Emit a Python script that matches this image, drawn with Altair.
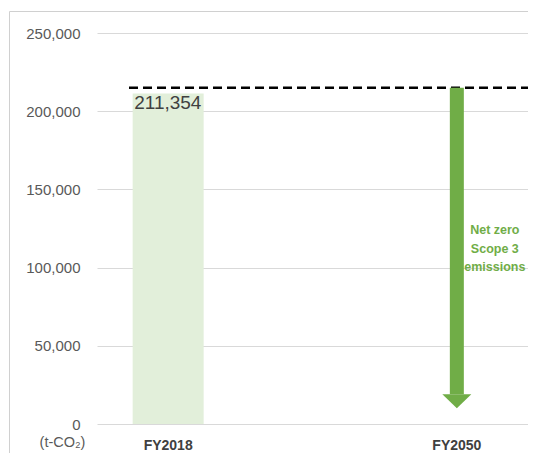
import altair as alt
import pandas as pd

categories = ["FY2018", "FY2050"]
bar_values = [211354, None]
bar_labels = ["211,354", ""]
baseline_level = 215000
arrow_start = 215000
arrow_end = 19000
y_ticks = [0, 50000, 100000, 150000, 200000, 250000]
annotation = "Net zero\nScope 3\nemissions"

bars = pd.DataFrame({"cat": categories[:1], "value": bar_values[:1], "label": bar_labels[:1]})
arrow = pd.DataFrame({"cat": [categories[1]], "start": [arrow_start], "end": [arrow_end]})
level = pd.DataFrame({"y": [baseline_level]})
note = pd.DataFrame({"cat": [categories[1]], "text": [annotation]})

xscale = alt.Scale(domain=categories, paddingInner=0.755, paddingOuter=0.124)
yscale = alt.Scale(domain=[0, 250000])

GREEN = "#70AD47"

base_x = alt.X("cat:N", scale=xscale, sort=categories,
               axis=alt.Axis(title=None, labelAngle=0, labelFont="Liberation Sans",
                             labelFontWeight="bold", labelFontSize=14, labelColor="#404040",
                             ticks=False, domain=False, labelPadding=14))

bar = alt.Chart(bars).mark_bar(color="#E2EFDA", size=71).encode(
    x=base_x,
    y=alt.Y("value:Q", scale=yscale,
            axis=alt.Axis(values=y_ticks, format=",d", grid=True, gridColor="#D9D9D9",
                          ticks=False, domain=False, labelFont="Liberation Sans",
                          labelFontSize=15, labelColor="#595959", labelPadding=17,
                          title="(t-CO₂)", titleAngle=0, titleAlign="center",
                          titleBaseline="middle", titleX=-35, titleY=409,
                          titleFont="Liberation Sans", titleFontSize=14.5,
                          titleFontWeight="normal", titleColor="#595959")),
)

bar_text = alt.Chart(bars).mark_text(align="left", baseline="middle", dx=-34, dy=10,
                                     font="Liberation Sans", fontSize=19, color="#404040").encode(
    x=alt.X("cat:N", scale=xscale, sort=categories),
    y=alt.Y("value:Q", scale=yscale),
    text="label:N",
)

shaft = alt.Chart(arrow).mark_bar(color=GREEN, size=14).encode(
    x=alt.X("cat:N", scale=xscale, sort=categories),
    y=alt.Y("start:Q", scale=yscale),
    y2="end:Q",
)

head = alt.Chart(arrow).mark_point(
    shape="M-1,0L1,0L0,0.97Z", filled=True, color=GREEN, opacity=1, size=841, strokeWidth=0
).encode(
    x=alt.X("cat:N", scale=xscale, sort=categories),
    y=alt.Y("end:Q", scale=yscale),
)

dash = alt.Chart(level).mark_rule(color="black", strokeWidth=2.5, strokeDash=[9, 5]).encode(
    y=alt.Y("y:Q", scale=yscale),
    x=alt.value(32),
    x2=alt.value(431),
)

label = alt.Chart(note).mark_text(align="center", baseline="middle", dx=38, lineHeight=18.5,
                                  font="Liberation Sans", fontWeight="bold", fontSize=12.5,
                                  color=GREEN, lineBreak="\n").encode(
    x=alt.X("cat:N", scale=xscale, sort=categories),
    y=alt.value(197),
    text="text:N",
)

frame_left = alt.Chart(level).mark_rule(color="#D0D0D0", strokeWidth=1).encode(
    x=alt.value(-87.5), y=alt.value(-21.5), y2=alt.value(430))
frame_top = alt.Chart(level).mark_rule(color="#D0D0D0", strokeWidth=1).encode(
    x=alt.value(-87.5), x2=alt.value(431), y=alt.value(-21.5))

chart = alt.layer(frame_left, frame_top, bar, bar_text, dash, shaft, head, label).properties(
    width=431, height=391,
    padding={"left": 89, "top": 25, "right": 0, "bottom": 29},
    autosize=alt.AutoSizeParams(type="none"),
).configure_view(stroke=None)

chart.save("out.html", embed_options={"renderer": "svg", "actions": False})
